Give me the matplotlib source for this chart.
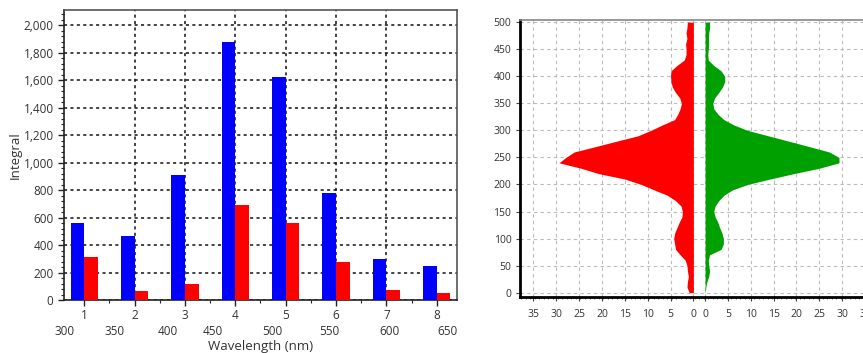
import matplotlib
matplotlib.use("Agg")
import matplotlib.pyplot as plt
import numpy as np
from matplotlib.ticker import MultipleLocator

plt.rcParams['font.family'] = ['Open Sans', 'DejaVu Sans']

# --- left chart data ---
categories = [1, 2, 3, 4, 5, 6, 7, 8]
blue_vals = [565, 467, 908, 1877, 1620, 780, 300, 252]
red_vals = [315, 65, 121, 692, 564, 276, 75, 51]
wavelengths = ["300", "350", "400", "450", "500", "550", "600", "650"]

# --- right chart data (profile, every 10 units from 0 to 500) ---
levels = list(range(0, 510, 10))
red_profile = [0.9, 1.4, 1.3, 1.1, 1.3, 1.4, 1.8, 2.9, 3.9, 4.1,
               4.3, 4.1, 3.6, 3.1, 2.5, 2.4, 2.7, 3.9, 5.7, 8.6,
               11.4, 15.0, 20.7, 24.6, 29.4, 27.9, 26.1, 21.4, 16.8, 12.1,
               9.3, 6.8, 4.1, 3.4, 2.9, 2.6, 3.0, 3.9, 4.6, 4.9,
               5.0, 4.9, 3.6, 2.0, 1.6, 1.6, 1.7, 1.4, 1.6, 1.4, 1.3]
green_profile = [0.05, 0.15, 0.4, 0.8, 1.0, 0.8, 0.7, 1.0, 3.5, 4.0,
                 4.0, 3.7, 3.2, 2.8, 2.2, 1.9, 2.2, 3.0, 4.1, 6.0,
                 9.3, 14.2, 19.4, 25.0, 29.3, 29.3, 27.2, 22.8, 18.3, 13.8,
                 9.3, 6.3, 4.1, 2.8, 1.9, 1.7, 2.1, 3.0, 3.8, 4.3,
                 4.3, 3.5, 1.9, 0.7, 0.6, 0.7, 0.8, 0.75, 0.8, 1.0, 1.0]
profile_ticks = [0, 5, 10, 15, 20, 25, 30, 35]

txt = '#333333'
fig = plt.figure(figsize=(8.63, 3.53), dpi=100)

# ---------- left: grouped bars ----------
ax = fig.add_axes([0.0742, 0.1493, 0.4553, 0.8224])
ax.bar(categories, blue_vals, width=-0.27, align='edge', color='#0000ff', zorder=3)
ax.bar(categories, red_vals, width=0.27, align='edge', color='#ff0000', zorder=3)
ax.set_xlim(0.6, 8.4)
ax.set_ylim(0, 2110)
ax.set_xticks(categories)
ax.xaxis.set_minor_locator(MultipleLocator(0.5))
ax.yaxis.set_major_locator(MultipleLocator(200))
ax.yaxis.set_minor_locator(MultipleLocator(40))
ax.yaxis.set_major_formatter(matplotlib.ticker.StrMethodFormatter('{x:,.0f}'))
ax.tick_params(axis='both', which='major', labelsize=8.5, colors='#222222',
               labelcolor=txt, length=4, width=1)
ax.tick_params(axis='both', which='minor', length=2.5, width=0.8, colors='#222222')
ax.tick_params(axis='x', pad=2)
ax.grid(axis='y', linestyle=(0, (2, 2.2)), color='#111111', linewidth=1.1, zorder=1)
for c in categories[1:-1]:
    ax.axvline(c, linestyle=(0, (2, 2.2)), color='#111111', linewidth=1.1, zorder=1)
for s in ['top', 'right']:
    ax.spines[s].set_color('#555555')
    ax.spines[s].set_linewidth(1.2)
for s in ['left', 'bottom']:
    ax.spines[s].set_color('#222222')
    ax.spines[s].set_linewidth(1.2)
ax.set_ylabel("Integral", fontsize=9.5, color=txt, labelpad=1)

wl_label_pos = [0.62, 1.61, 2.66, 3.56, 4.74, 5.86, 7.06, 8.21]
sec = ax.secondary_xaxis('bottom')
sec.set_xticks(wl_label_pos, wavelengths)
sec.tick_params(length=0, pad=18, labelsize=8.5, labelcolor=txt)
sec.spines['bottom'].set_visible(False)
sec.set_xlabel("Wavelength (nm)", fontsize=9.5, color=txt, labelpad=1)

# ---------- right: mirrored profile ----------
g = 1.28
lv = np.array(levels)
rp = np.array(red_profile)
gp = np.array(green_profile)
ax2 = fig.add_axes([0.6029, 0.1595, 0.4168, 0.7838])
ax2.fill_betweenx(lv, -g - rp, -g, color='#ff0000', linewidth=0, zorder=3)
ax2.fill_betweenx(lv, g, g + gp, color='#00a000', linewidth=0, zorder=3)
ax2.set_xlim(-39.15, 39.56)
ax2.set_ylim(-7.5, 504)
tick_pos = [-(g + v) for v in profile_ticks[::-1]] + [g + v for v in profile_ticks]
tick_lab = [str(v) for v in profile_ticks[::-1]] + [str(v) for v in profile_ticks]
ax2.set_xticks(tick_pos, tick_lab)
ax2.xaxis.set_minor_locator(MultipleLocator(1))
ax2.yaxis.set_major_locator(MultipleLocator(50))
ax2.tick_params(axis='both', labelsize=7.5, labelcolor=txt, length=3, width=0.8,
                colors='#444444')
ax2.tick_params(axis='x', which='minor', length=1.5, width=0.6, colors='#666666')
ax2.tick_params(axis='x', pad=6)
ax2.grid(True, which='major', linestyle=(0, (3, 3)), color='#bbbbbb', linewidth=0.8, zorder=1)
ax2.spines['top'].set_color('#888888')
ax2.spines['top'].set_linewidth(1.2)
for s in ['left', 'bottom']:
    ax2.spines[s].set_color('#000000')
    ax2.spines[s].set_linewidth(2)
ax2.spines['right'].set_visible(False)

fig.savefig("out.png", dpi=100)
